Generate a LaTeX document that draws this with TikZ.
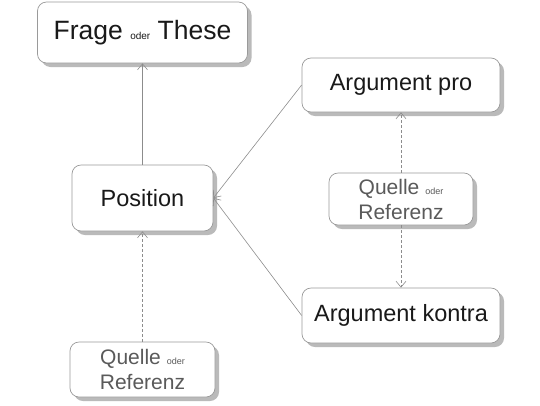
\documentclass[tikz,border=0pt]{standalone}
\usepackage{fontspec}
\setmainfont{Liberation Sans}
\usetikzlibrary{arrows.meta,shadows}

\definecolor{boxline}{HTML}{9A9A9A}
\definecolor{shadowgray}{HTML}{BABABA}
\definecolor{linkgray}{HTML}{8C8C8C}
\definecolor{sourcetext}{HTML}{5A5A5A}

\tikzset{
  card/.style={draw=boxline, line width=0.7pt, rounded corners=9pt, fill=white,
    drop shadow={shadow xshift=4pt, shadow yshift=-4pt, fill=shadowgray, opacity=1},
    align=center, inner sep=0pt},
  claim/.style={card, font=\fontsize{23.5}{26}\selectfont, text=black!90},
  source/.style={card, font=\fontsize{21}{25}\selectfont, text=sourcetext},
  link/.style={draw=linkgray, line width=0.6pt, -{Straight Barb[length=6pt,width=10pt]}},
  cite/.style={link, dash pattern=on 3pt off 2pt},
}
\newcommand{\smalloder}[1]{{\fontsize{#1}{#1}\selectfont oder}}

\begin{document}
\begin{tikzpicture}[x=1pt, y=-1pt]
  \useasboundingbox (0,0) rectangle (540,405);

  % left column
  \node[claim, font=\fontsize{26.5}{28}\selectfont, minimum width=210pt, minimum height=61pt]
    (frage) at (142.5,32.5) {Frage \smalloder{10} These};
  \node[claim, minimum width=141pt, minimum height=66pt] (position) at (142.5,198) {Position};
  \node[source, minimum width=145pt, minimum height=55pt] (quelleB) at (142.5,369.5)
    {Quelle \smalloder{9}\\Referenz};

  % right column
  \node[claim, minimum width=198pt, minimum height=54pt] (pro) at (401,85) {Argument pro};
  \node[source, minimum width=144pt, minimum height=52pt] (quelleR) at (401,199)
    {Quelle \smalloder{9}\\Referenz};
  \node[claim, minimum width=198pt, minimum height=55pt] (kontra) at (401,315.5) {Argument kontra};

  \draw[link] (position) -- (frage);
  \draw[link] (pro.west) -- (position.east);
  \draw[link] (kontra.west) -- (position.east);
  \draw[cite] (quelleB) -- (position);
  \draw[cite] (quelleR) -- (pro);
  \draw[cite] (quelleR) -- (kontra);
\end{tikzpicture}
\end{document}
